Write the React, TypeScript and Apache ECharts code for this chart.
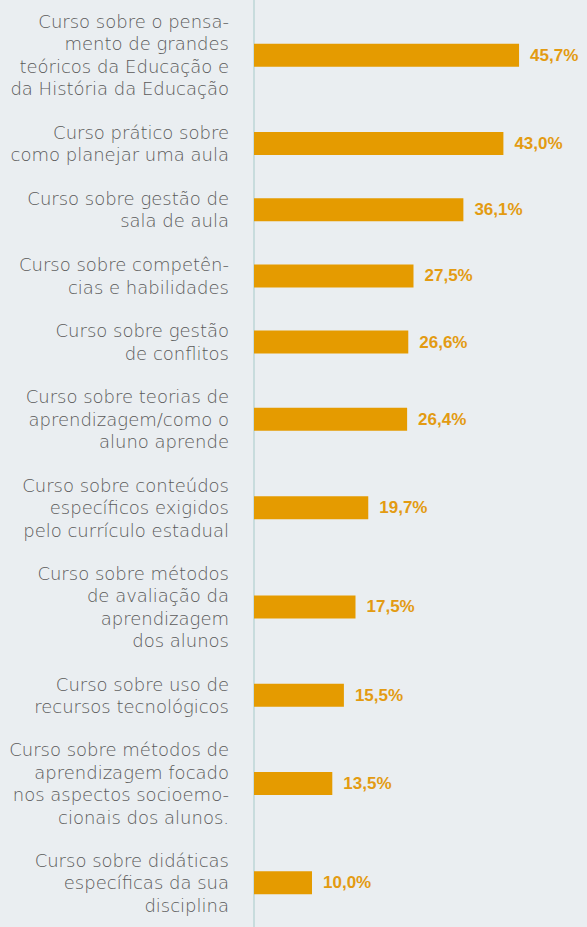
import React, { useEffect, useRef } from "react";
import * as echarts from "echarts";

const categories: string[] = [
  "Curso sobre o pensa-\nmento de grandes\nteóricos da Educação e\nda História da Educação",
  "Curso prático sobre\ncomo planejar uma aula",
  "Curso sobre gestão de\nsala de aula",
  "Curso sobre competên-\ncias e habilidades",
  "Curso sobre gestão\nde conflitos",
  "Curso sobre teorias de\naprendizagem/como o\naluno aprende",
  "Curso sobre conteúdos\nespecíficos exigidos\npelo currículo estadual",
  "Curso sobre métodos\nde avaliação da\naprendizagem\ndos alunos",
  "Curso sobre uso de\nrecursos tecnológicos",
  "Curso sobre métodos de\naprendizagem focado\nnos aspectos socioemo-\ncionais dos alunos.",
  "Curso sobre didáticas\nespecíficas da sua\ndisciplina",
];

const values: number[] = [45.7, 43.0, 36.1, 27.5, 26.6, 26.4, 19.7, 17.5, 15.5, 13.5, 10.0];

export default function App() {
  const ref = useRef<HTMLDivElement>(null);

  useEffect(() => {
    if (!ref.current) return;
    const chart = echarts.init(ref.current, undefined, { renderer: "svg" });

    // layout in "line" units: each label block takes its line count plus one blank line
    const lineCounts = categories.map((c) => c.split("\n").length);
    const centers: number[] = [];
    let acc = 0;
    lineCounts.forEach((n) => {
      centers.push(acc + n / 2);
      acc += n + 1;
    });
    const totalLines = acc - 1;
    const LH = 22.41;

    const data = values.map((v, i) => [v, centers[i], i]);

    chart.setOption({
      animation: false,
      backgroundColor: "#eaeef1",
      grid: {
        left: 254,
        width: 290,
        top: 9.3 - 0.5 * LH,
        height: (totalLines + 1) * LH,
      },
      xAxis: {
        type: "value",
        min: 0,
        max: 50,
        show: false,
      },
      yAxis: {
        type: "value",
        inverse: true,
        min: -0.5,
        max: totalLines + 0.5,
        offset: 12,
        axisLine: { show: true, lineStyle: { color: "#c8dcdd", width: 2 } },
        axisTick: { show: false },
        axisLabel: { show: false },
        splitLine: { show: false },
      },
      series: [
        {
          type: "custom",
          coordinateSystem: "cartesian2d",
          encode: { x: 0, y: 1 },
          data,
          renderItem: (params: any, api: any) => {
            const v = api.value(0);
            const c = api.value(1);
            const idx = api.value(2);
            const p0 = api.coord([0, c]);
            const p1 = api.coord([v, c]);
            const h = 23;
            return {
              type: "group",
              children: [
                {
                  type: "rect",
                  shape: { x: p0[0], y: p0[1] - h / 2, width: p1[0] - p0[0], height: h },
                  style: { fill: "#e59b00" },
                },
                {
                  type: "text",
                  x: p1[0] + 11,
                  y: p1[1],
                  style: {
                    text: v.toFixed(1).replace(".", ",") + "%",
                    fill: "#e39b12",
                    font: "bold 17px 'Liberation Sans'",
                    align: "left",
                    verticalAlign: "middle",
                  },
                },
                {
                  type: "text",
                  x: p0[0] - 25,
                  y: p0[1],
                  style: {
                    text: categories[idx],
                    fill: "#5a5a5a",
                    font: "200 18px 'DejaVu Sans'",
                    lineHeight: LH,
                    align: "right",
                    verticalAlign: "middle",
                  },
                },
              ],
            };
          },
        },
      ],
    });

    return () => chart.dispose();
  }, []);

  return (
    <div
      ref={ref}
      style={{ position: "absolute", left: 0, top: 0, width: 587, height: 927 }}
    />
  );
}
